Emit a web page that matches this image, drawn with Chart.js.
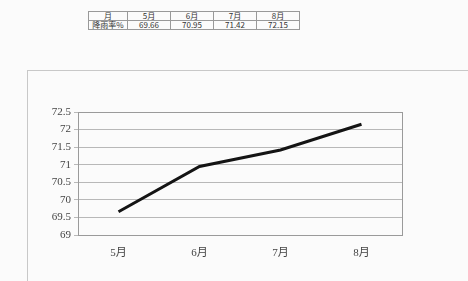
<!DOCTYPE html>
<html>
<head>
<meta charset="utf-8">
<script src="https://cdn.jsdelivr.net/npm/chart.js@4/dist/chart.umd.min.js"></script>
<style>
  body { margin: 0; background: #fbfbfb; width: 468px; height: 281px; overflow: hidden; position: relative; font-family: "Liberation Serif", "Noto Sans CJK SC", serif; }
  #tbl { position: absolute; left: 88px; top: 11px; border-collapse: collapse; font-size: 8px; color: #333; font-family: "Noto Sans CJK SC", sans-serif; }
  #tbl td { border: 1px solid #999; height: 8px; line-height: 8px; padding: 0; text-align: center; width: 42px; }
  #tbl td:first-child { width: 38px; }
  #box { position: absolute; left: 27px; top: 70px; width: 460px; height: 230px; border: 1px solid #c8c8c8; }
  #chart1 { position: absolute; left: 0; top: 0; }
</style>
</head>
<body>
<table id="tbl"></table>
<div id="box"></div>
<canvas id="chart1" width="468" height="281"></canvas>
<script>
let months = ["5月", "6月", "7月", "8月"];
let rate = [69.66, 70.95, 71.42, 72.15];
let rowHead = "月";
let rowLabel = "降雨率%";

// table above the chart
let tbl = document.getElementById("tbl");
let r1 = tbl.insertRow();
r1.insertCell().textContent = rowHead;
for (let i = 0; i < months.length; i++) {
    r1.insertCell().textContent = months[i];
}
let r2 = tbl.insertRow();
r2.insertCell().textContent = rowLabel;
for (let i = 0; i < rate.length; i++) {
    r2.insertCell().textContent = rate[i].toFixed(2);
}

let frame = {
    id: "frame",
    afterDraw(chart) {
        let a = chart.chartArea;
        let ctx = chart.ctx;
        ctx.save();
        ctx.strokeStyle = "#9a9a9a";
        ctx.lineWidth = 1;
        ctx.strokeRect(a.left + 0.5, a.top + 0.5, a.right - a.left, a.bottom - a.top);
        ctx.restore();
    }
};

let ctx = document.getElementById("chart1").getContext("2d");
let chart1 = new Chart(ctx, {
    type: "line",
    data: {
        labels: months,
        datasets: [{
            data: rate,
            borderColor: "#141414",
            borderWidth: 3,
            pointRadius: 0,
            tension: 0
        }]
    },
    options: {
        responsive: false,
        animation: false,
        layout: { padding: { top: 112, right: 66, bottom: 18, left: 28 } },
        plugins: { legend: { display: false }, tooltip: { enabled: false } },
        scales: {
            x: {
                offset: true,
                grid: { display: false, drawTicks: false },
                border: { display: false },
                ticks: { padding: 12, color: "#444", font: { family: "Liberation Serif, Noto Sans CJK SC", size: 11 } },
                afterFit(s) { s.height = 28; }
            },
            y: {
                min: 69,
                max: 72.5,
                grid: { color: "#b8b8b8", tickLength: 4 },
                border: { color: "#9a9a9a" },
                ticks: {
                    stepSize: 0.5, padding: 3, color: "#444", autoSkip: false,
                    font: { family: "Liberation Serif", size: 11 },
                    callback: (v) => String(v)
                },
                afterFit(s) { s.width = 50; }
            }
        }
    },
    plugins: [frame]
});
</script>
</body>
</html>
